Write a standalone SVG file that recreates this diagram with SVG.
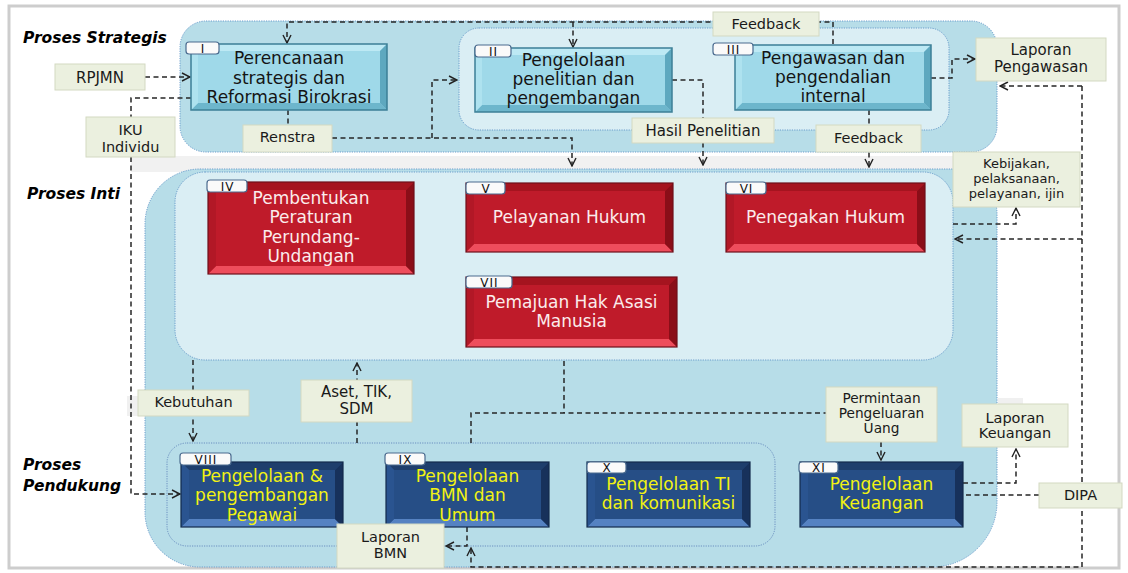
<svg xmlns="http://www.w3.org/2000/svg" width="1128" height="573" viewBox="0 0 1128 573">
<defs>
<marker id="arr" viewBox="0 0 10 10" refX="9" refY="5" markerWidth="10" markerHeight="10" orient="auto" markerUnits="userSpaceOnUse">
<path d="M1,1 L9,5 L1,9" fill="none" stroke="#222" stroke-width="1.4"/>
</marker>
</defs>
<style>
text{font-family:"DejaVu Sans",Verdana,sans-serif}
.sec{font-size:15.5px;font-weight:bold;font-style:italic;fill:#000}
.bx{font-size:17px;text-anchor:middle}
.tc{fill:#141414}.tr{fill:#fbecec}.ty{fill:#f2f212}
.lbl rect{fill:#ebf0df;stroke:#d3d9c2;stroke-width:1}
.lbl text{font-size:14.5px;text-anchor:middle;fill:#1a1a1a}
.tab rect{fill:#fafafa;stroke:#4a6a8e;stroke-width:1.2}
.tab text{font-size:12px;text-anchor:middle;fill:#111;letter-spacing:1px}
.pan{fill:#b7dde8;stroke:#6a9ccb;stroke-width:1;stroke-dasharray:1.2 1.2}
.pin{fill:#daeef4;stroke:#6a9ccb;stroke-width:1;stroke-dasharray:1.2 1.2}
.pdot{fill:none;stroke:#6a8fc0;stroke-width:1;stroke-dasharray:1.2 1.2}
.con path{fill:none;stroke:#262626;stroke-width:1.5;stroke-dasharray:5 3.5}
.cf{fill:#9fd9e9}.ct{fill:#bde9f4}.cl{fill:#aee2ef}.cb{fill:#6db6cc}.cr{fill:#5ea8bf}.cs{fill:none;stroke:#3d7f96;stroke-width:1.5}
.rf{fill:#bf1b2a}.rt{fill:#a5141f}.rl{fill:#b21826}.rb{fill:#ee4d5c}.rr{fill:#8a0e18}.rs{fill:none;stroke:#6e1019;stroke-width:1.2}
.bf{fill:#264e86}.bt{fill:#1e3e6c}.bl{fill:#2a5490}.bb{fill:#5582c2}.br{fill:#17315b}.bs{fill:none;stroke:#132a4c;stroke-width:1.2}
.small{font-size:13px !important}
.mid{font-size:13.5px !important}
</style>
<rect x="0" y="0" width="1128" height="573" fill="#fff"/>
<rect x="9" y="6" width="1110" height="562" fill="#fff" stroke="#cdcdcd" stroke-width="3"/>
<rect x="131" y="156" width="822" height="16" fill="#f1f1f1"/>
<rect x="127" y="396" width="12" height="20" fill="#f0f0f0"/>
<rect x="998" y="398" width="25" height="7" fill="#f0f0f0"/>

<g id="panels">
<rect class="pan" x="180" y="21" width="817" height="131" rx="26"/>
<rect class="pin" x="459" y="28" width="490" height="102" rx="20"/>
<path class="pan" d="M200,169 H952 A45,45 0 0 1 997,214 V502 A65,65 0 0 1 932,567 H200 A55,55 0 0 1 145,512 V224 A55,55 0 0 1 200,169 Z"/>
<rect class="pin" x="175" y="172" width="778" height="188" rx="30"/>
<rect class="pdot" x="167" y="443" width="608" height="103" rx="20"/>
</g>

<g id="section-labels">
<text class="sec" x="23" y="43">Proses Strategis</text>
<text class="sec" x="27" y="199">Proses Inti</text>
<text class="sec" x="23" y="470">Proses</text>
<text class="sec" x="23" y="491">Pendukung</text>
</g>

<g id="connectors" class="con">
<path d="M833,44 V22 H287 V43" marker-end="url(#arr)"/>
<path d="M573,22 V47" marker-end="url(#arr)"/>
<path d="M145,77 H190" marker-end="url(#arr)"/>
<path d="M191,98 H131 V494 H180" marker-end="url(#arr)"/>
<path d="M288,110 V125"/>
<path d="M332,138 H572 V166" marker-end="url(#arr)"/>
<path d="M432,138 V80 H457" marker-end="url(#arr)"/>
<path d="M672,80 H703 V165" marker-end="url(#arr)"/>
<path d="M869,110 V167" marker-end="url(#arr)"/>
<path d="M931,78 H952 V59 H975" marker-end="url(#arr)"/>
<path d="M1082,86 H1000" marker-end="url(#arr)"/>
<path d="M1082,86 V567 H471 V548" marker-end="url(#arr)"/>
<path d="M1082,239 H955" marker-end="url(#arr)"/>
<path d="M953,224 H1016 V208" marker-end="url(#arr)"/>
<path d="M193,360 V441" marker-end="url(#arr)"/>
<path d="M357,443 V363" marker-end="url(#arr)"/>
<path d="M564,361 V413"/>
<path d="M471,443 V413 H826"/>
<path d="M881,442 V460" marker-end="url(#arr)"/>
<path d="M963,483 H1016 V449" marker-end="url(#arr)"/>
<path d="M1039,495 H963"/>
<path d="M467,527 V546 H446" marker-end="url(#arr)"/>
</g>

<g id="node-I">
<rect class="cf" x="191" y="44" width="196" height="66"/>
<polygon class="ct" points="191,44 387,44 380,51 198,51"/>
<polygon class="cb" points="191,110 387,110 380,103 198,103"/>
<polygon class="cl" points="191,44 198,51 198,103 191,110"/>
<polygon class="cr" points="387,44 380,51 380,103 387,110"/>
<rect class="cs" x="191" y="44" width="196" height="66"/>
<text class="bx tc" x="289" y="64">Perencanaan</text>
<text class="bx tc" x="289" y="84">strategis dan</text>
<text class="bx tc" x="289" y="103">Reformasi Birokrasi</text>
<g class="tab"><rect x="186" y="42" width="33" height="12" rx="3"/><text x="203" y="52.5">I</text></g>
</g>

<g id="node-II">
<rect class="cf" x="475" y="48" width="197" height="64"/>
<polygon class="ct" points="475,48 672,48 665,55 482,55"/>
<polygon class="cb" points="475,112 672,112 665,105 482,105"/>
<polygon class="cl" points="475,48 482,55 482,105 475,112"/>
<polygon class="cr" points="672,48 665,55 665,105 672,112"/>
<rect class="cs" x="475" y="48" width="197" height="64"/>
<text class="bx tc" x="573.5" y="65.5">Pengelolaan</text>
<text class="bx tc" x="573.5" y="85">penelitian dan</text>
<text class="bx tc" x="573.5" y="104">pengembangan</text>
<g class="tab"><rect x="475" y="45" width="36" height="12" rx="3"/><text x="493.5" y="55.5">II</text></g>
</g>

<g id="node-III">
<rect class="cf" x="735" y="45" width="196" height="65"/>
<polygon class="ct" points="735,45 931,45 924,52 742,52"/>
<polygon class="cb" points="735,110 931,110 924,103 742,103"/>
<polygon class="cl" points="735,45 742,52 742,103 735,110"/>
<polygon class="cr" points="931,45 924,52 924,103 931,110"/>
<rect class="cs" x="735" y="45" width="196" height="65"/>
<text class="bx tc" x="833" y="63.5">Pengawasan dan</text>
<text class="bx tc" x="833" y="83">pengendalian</text>
<text class="bx tc" x="833" y="102">internal</text>
<g class="tab"><rect x="713" y="43" width="40" height="12" rx="3"/><text x="733.5" y="53.5">III</text></g>
</g>

<g id="node-IV">
<rect class="rf" x="208" y="182" width="206" height="92"/>
<polygon class="rt" points="208,182 414,182 406,190 216,190"/>
<polygon class="rb" points="208,274 414,274 406,266 216,266"/>
<polygon class="rl" points="208,182 216,190 216,266 208,274"/>
<polygon class="rr" points="414,182 406,190 406,266 414,274"/>
<rect class="rs" x="208" y="182" width="206" height="92"/>
<text class="bx tr" x="311" y="203.5">Pembentukan</text>
<text class="bx tr" x="311" y="223">Peraturan</text>
<text class="bx tr" x="311" y="243">Perundang-</text>
<text class="bx tr" x="311" y="262">Undangan</text>
<g class="tab"><rect x="207" y="180" width="40" height="12" rx="3"/><text x="227.5" y="190.5">IV</text></g>
</g>

<g id="node-V">
<rect class="rf" x="466" y="183" width="207" height="69"/>
<polygon class="rt" points="466,183 673,183 665,191 474,191"/>
<polygon class="rb" points="466,252 673,252 665,244 474,244"/>
<polygon class="rl" points="466,183 474,191 474,244 466,252"/>
<polygon class="rr" points="673,183 665,191 665,244 673,252"/>
<rect class="rs" x="466" y="183" width="207" height="69"/>
<text class="bx tr" x="569.5" y="223">Pelayanan Hukum</text>
<g class="tab"><rect x="466" y="182" width="39" height="12" rx="3"/><text x="486" y="192.5">V</text></g>
</g>

<g id="node-VI">
<rect class="rf" x="726" y="183" width="199" height="69"/>
<polygon class="rt" points="726,183 925,183 917,191 734,191"/>
<polygon class="rb" points="726,252 925,252 917,244 734,244"/>
<polygon class="rl" points="726,183 734,191 734,244 726,252"/>
<polygon class="rr" points="925,183 917,191 917,244 925,252"/>
<rect class="rs" x="726" y="183" width="199" height="69"/>
<text class="bx tr" x="825.5" y="223">Penegakan Hukum</text>
<g class="tab"><rect x="726" y="182" width="40" height="12" rx="3"/><text x="746.5" y="192.5">VI</text></g>
</g>

<g id="node-VII">
<rect class="rf" x="466" y="277" width="211" height="70"/>
<polygon class="rt" points="466,277 677,277 669,285 474,285"/>
<polygon class="rb" points="466,347 677,347 669,339 474,339"/>
<polygon class="rl" points="466,277 474,285 474,339 466,347"/>
<polygon class="rr" points="677,277 669,285 669,339 677,347"/>
<rect class="rs" x="466" y="277" width="211" height="70"/>
<text class="bx tr" x="571.5" y="308">Pemajuan Hak Asasi</text>
<text class="bx tr" x="571.5" y="327">Manusia</text>
<g class="tab"><rect x="466" y="276" width="46" height="12" rx="3"/><text x="489.5" y="286.5">VII</text></g>
</g>

<g id="node-VIII">
<rect class="bf" x="181" y="462" width="162" height="65"/>
<polygon class="bt" points="181,462 343,462 335,470 189,470"/>
<polygon class="bb" points="181,527 343,527 335,519 189,519"/>
<polygon class="bl" points="181,462 189,470 189,519 181,527"/>
<polygon class="br" points="343,462 335,470 335,519 343,527"/>
<rect class="bs" x="181" y="462" width="162" height="65"/>
<text class="bx ty" x="262" y="481.5">Pengelolaan &amp;</text>
<text class="bx ty" x="262" y="501">pengembangan</text>
<text class="bx ty" x="262" y="520.5">Pegawai</text>
<g class="tab"><rect x="180" y="453" width="51" height="12" rx="3"/><text x="206" y="463.5">VIII</text></g>
</g>

<g id="node-IX">
<rect class="bf" x="386" y="462" width="163" height="65"/>
<polygon class="bt" points="386,462 549,462 541,470 394,470"/>
<polygon class="bb" points="386,527 549,527 541,519 394,519"/>
<polygon class="bl" points="386,462 394,470 394,519 386,527"/>
<polygon class="br" points="549,462 541,470 541,519 549,527"/>
<rect class="bs" x="386" y="462" width="163" height="65"/>
<text class="bx ty" x="467.5" y="481.5">Pengelolaan</text>
<text class="bx ty" x="467.5" y="501">BMN dan</text>
<text class="bx ty" x="467.5" y="520.5">Umum</text>
<g class="tab"><rect x="385" y="453" width="40" height="12" rx="3"/><text x="405.5" y="463.5">IX</text></g>
</g>

<g id="node-X">
<rect class="bf" x="587" y="462" width="163" height="65"/>
<polygon class="bt" points="587,462 750,462 742,470 595,470"/>
<polygon class="bb" points="587,527 750,527 742,519 595,519"/>
<polygon class="bl" points="587,462 595,470 595,519 587,527"/>
<polygon class="br" points="750,462 742,470 742,519 750,527"/>
<rect class="bs" x="587" y="462" width="163" height="65"/>
<text class="bx ty" x="668.5" y="490">Pengelolaan TI</text>
<text class="bx ty" x="668.5" y="509">dan komunikasi</text>
<g class="tab"><rect x="587" y="462" width="39" height="11" rx="3"/><text x="607" y="472">X</text></g>
</g>

<g id="node-XI">
<rect class="bf" x="800" y="462" width="163" height="65"/>
<polygon class="bt" points="800,462 963,462 955,470 808,470"/>
<polygon class="bb" points="800,527 963,527 955,519 808,519"/>
<polygon class="bl" points="800,462 808,470 808,519 800,527"/>
<polygon class="br" points="963,462 955,470 955,519 963,527"/>
<rect class="bs" x="800" y="462" width="163" height="65"/>
<text class="bx ty" x="881.5" y="490">Pengelolaan</text>
<text class="bx ty" x="881.5" y="509">Keuangan</text>
<g class="tab"><rect x="799" y="462" width="39" height="11" rx="3"/><text x="819" y="472">XI</text></g>
</g>

<g id="label-rpjmn" class="lbl"><rect x="55" y="64" width="90" height="26"/><text x="100" y="83" style="font-size:15px">RPJMN</text></g>
<g id="label-iku" class="lbl"><rect x="86" y="117" width="89" height="40"/><text x="130.5" y="135">IKU</text><text x="130.5" y="152">Individu</text></g>
<g id="label-renstra" class="lbl"><rect x="243" y="125" width="89" height="27"/><text x="287.5" y="142">Renstra</text></g>
<g id="label-feedback-top" class="lbl"><rect x="713" y="12" width="106" height="24"/><text x="766" y="29">Feedback</text></g>
<g id="label-hasil" class="lbl"><rect x="632" y="118" width="142" height="25"/><text x="703" y="136" style="font-size:15px">Hasil Penelitian</text></g>
<g id="label-feedback-bottom" class="lbl"><rect x="816" y="125" width="105" height="27"/><text x="868.5" y="143">Feedback</text></g>
<g id="label-laporan-pengawasan" class="lbl"><rect x="976" y="38" width="130" height="43"/><text x="1041" y="55" style="font-size:15px">Laporan</text><text x="1041" y="72" style="font-size:15px">Pengawasan</text></g>
<g id="label-kebijakan" class="lbl"><rect x="953" y="152" width="127" height="55"/><text x="1016.5" y="168" style="font-size:13px">Kebijakan,</text><text x="1016.5" y="183" style="font-size:13px">pelaksanaan,</text><text x="1016.5" y="198" style="font-size:13px">pelayanan, ijin</text></g>
<g id="label-kebutuhan" class="lbl"><rect x="138" y="390" width="111" height="26"/><text x="193.5" y="407">Kebutuhan</text></g>
<g id="label-aset" class="lbl"><rect x="301" y="380" width="111" height="42"/><text x="356.5" y="397" style="font-size:15px">Aset, TIK,</text><text x="356.5" y="414" style="font-size:15px">SDM</text></g>
<g id="label-permintaan" class="lbl"><rect x="826" y="387" width="111" height="55"/><text x="881.5" y="403" style="font-size:13.7px">Permintaan</text><text x="881.5" y="418" style="font-size:13.7px">Pengeluaran</text><text x="881.5" y="433" style="font-size:13.7px">Uang</text></g>
<g id="label-laporan-keuangan" class="lbl"><rect x="962" y="404" width="106" height="43"/><text x="1015" y="423">Laporan</text><text x="1015" y="438">Keuangan</text></g>
<g id="label-dipa" class="lbl"><rect x="1039" y="483" width="83" height="25"/><text x="1080.5" y="500">DIPA</text></g>
<g id="label-laporan-bmn" class="lbl"><rect x="337" y="524" width="107" height="44"/><text x="390.5" y="542">Laporan</text><text x="390.5" y="558">BMN</text></g>
</svg>
